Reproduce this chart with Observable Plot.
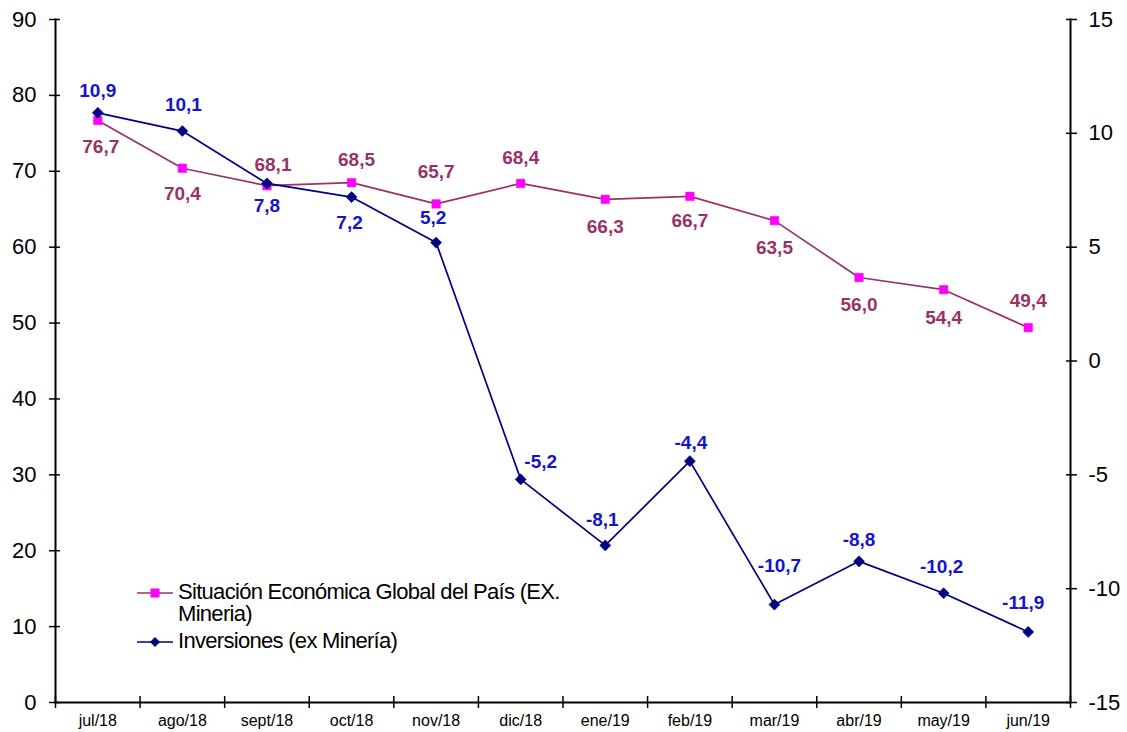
<!DOCTYPE html>
<html>
<head>
<meta charset="utf-8">
<script src="https://cdn.jsdelivr.net/npm/d3@7"></script>
<script src="https://cdn.jsdelivr.net/npm/@observablehq/plot@0.6"></script>
<style>
  body { margin: 0; background: #fff; }
  #wrap { position: relative; width: 1127px; height: 732px; font-family: "Liberation Sans", Arial, sans-serif; }
  #legend { position: absolute; left: 137px; top: 581px; font-size: 22px; color: #000; line-height: 22px; letter-spacing: -0.7px; }
  #legend .row { display: flex; align-items: flex-start; }
  #legend svg { flex: none; margin-top: 4px; margin-right: 5px; }
</style>
</head>
<body>
<div id="wrap"></div>
<script>
const months = ["jul/18","ago/18","sept/18","oct/18","nov/18","dic/18","ene/19","feb/19","mar/19","abr/19","may/19","jun/19"];
const situacion = [76.7, 70.4, 68.1, 68.5, 65.7, 68.4, 66.3, 66.7, 63.5, 56.0, 54.4, 49.4];
const inversiones = [10.9, 10.1, 7.8, 7.2, 5.2, -5.2, -8.1, -4.4, -10.7, -8.8, -10.2, -11.9];
const leftTicks = [0, 10, 20, 30, 40, 50, 60, 70, 80, 90];
const rightTicks = [-15, -10, -5, 0, 5, 10, 15];
const sitName = "Situación Económica Global del País (EX. Mineria)";
const invName = "Inversiones (ex Minería)";

// label placement (pixel nudges for the value labels, rendering config)
const sitLabelDx = [3, 0, 6, 5, 0, 0, 0, 0, 0, 0, 0, 0];
const sitLabelDy = [26, 26, -21, -23, -32, -26, 28, 25, 27, 27, 28, -27];
const invLabelDx = [0, 1, 0, -2, -3, 20, -3, 1, 5, 0, -2, -5];
const invLabelDy = [-22, -26, 22, 26, -25, -17, -26, -18, -39, -21, -26, -29];

const toLeft = v => (v + 15) * 3;   // right axis (-15..15) onto left axis (0..90)
const fmt = v => v.toFixed(1).replace(".", ",");

const sit = months.map((m, i) => ({i, x: i + 0.5, y: situacion[i], v: situacion[i]}));
const inv = months.map((m, i) => ({i, x: i + 0.5, y: toLeft(inversiones[i]), v: inversiones[i]}));
const bounds = d3.range(months.length + 1);

const SIT_LINE = "#993366", SIT_MARK = "#FF00FF", SIT_TEXT = "#993366";
const INV_LINE = "#000080", INV_TEXT = "#1414CC";

const labelMarks = [];
sit.forEach(d => labelMarks.push(Plot.text([d], {x: "x", y: "y", text: d => fmt(d.v), dx: sitLabelDx[d.i], dy: sitLabelDy[d.i], fill: SIT_TEXT, fontWeight: "bold", fontSize: 19})));
inv.forEach(d => labelMarks.push(Plot.text([d], {x: "x", y: "y", text: d => fmt(d.v), dx: invLabelDx[d.i], dy: invLabelDy[d.i], fill: INV_TEXT, fontWeight: "bold", fontSize: 19})));

const chart = Plot.plot({
  width: 1127,
  height: 732,
  marginLeft: 55,
  marginRight: 57,
  marginTop: 19,
  marginBottom: 30,
  style: {fontFamily: "Liberation Sans, Arial, sans-serif", background: "#fff", overflow: "visible"},
  x: {type: "linear", domain: [0, months.length]},
  y: {domain: [0, 90]},
  marks: [
    Plot.ruleY([0], {stroke: "#000", strokeWidth: 2}),
    Plot.frame({anchor: "left", stroke: "#000", strokeWidth: 2}),
    Plot.frame({anchor: "right", stroke: "#000", strokeWidth: 2}),
    // left y axis
    Plot.axisY({anchor: "left", ticks: leftTicks, tickSize: 6, tickPadding: 13, fontSize: 22, stroke: "#000", strokeWidth: 1.5, color: "#000", label: null}),
    Plot.axisY({anchor: "left", ticks: leftTicks, tickSize: -5, text: null, stroke: "#000", strokeWidth: 1.5, label: null}),
    // right y axis
    Plot.axisY({anchor: "right", ticks: rightTicks.map(toLeft), tickFormat: d => String(Math.round(d / 3 - 15)), tickSize: 6, tickPadding: 12, fontSize: 22, stroke: "#000", strokeWidth: 1.5, color: "#000", label: null}),
    Plot.axisY({anchor: "right", ticks: rightTicks.map(toLeft), tickSize: -5, text: null, stroke: "#000", strokeWidth: 1.5, label: null}),
    // x axis: ticks at boundaries, labels at centers
    Plot.axisX({ticks: bounds, tickSize: 6, text: null, stroke: "#000", strokeWidth: 1.5, label: null}),
    Plot.axisX({ticks: bounds, tickSize: -6, text: null, stroke: "#000", strokeWidth: 1.5, label: null}),
    Plot.axisX({ticks: months.map((m, i) => i + 0.5), tickFormat: d => months[Math.floor(d)], tickSize: 0, tickPadding: 12, fontSize: 16, color: "#000", label: null}),
    // series
    Plot.line(sit, {x: "x", y: "y", stroke: SIT_LINE, strokeWidth: 1.7}),
    Plot.line(inv, {x: "x", y: "y", stroke: INV_LINE, strokeWidth: 1.7}),
    Plot.dot(sit, {x: "x", y: "y", symbol: "square", r: 4.8, fill: SIT_MARK, stroke: SIT_MARK, strokeWidth: 0.5}),
    Plot.dot(inv, {x: "x", y: "y", symbol: "diamond2", r: 5, fill: INV_LINE, stroke: INV_LINE, strokeWidth: 0.5}),
    ...labelMarks
  ]
});

const wrap = document.getElementById("wrap");
wrap.appendChild(chart);

const legend = document.createElement("div");
legend.id = "legend";
legend.innerHTML = `
  <div class="row"><svg width="36" height="16"><line x1="0" y1="8" x2="36" y2="8" stroke="${SIT_LINE}" stroke-width="1.6"/><rect x="13.5" y="3.5" width="9" height="9" fill="${SIT_MARK}"/></svg><span style="width:395px">${sitName}</span></div>
  <div class="row" style="margin-top:5px"><svg width="36" height="16"><line x1="0" y1="8" x2="36" y2="8" stroke="${INV_LINE}" stroke-width="1.6"/><path d="M18 3 L23 8 L18 13 L13 8 Z" fill="${INV_LINE}"/></svg><span>${invName}</span></div>`;
wrap.appendChild(legend);
</script>
</body>
</html>
